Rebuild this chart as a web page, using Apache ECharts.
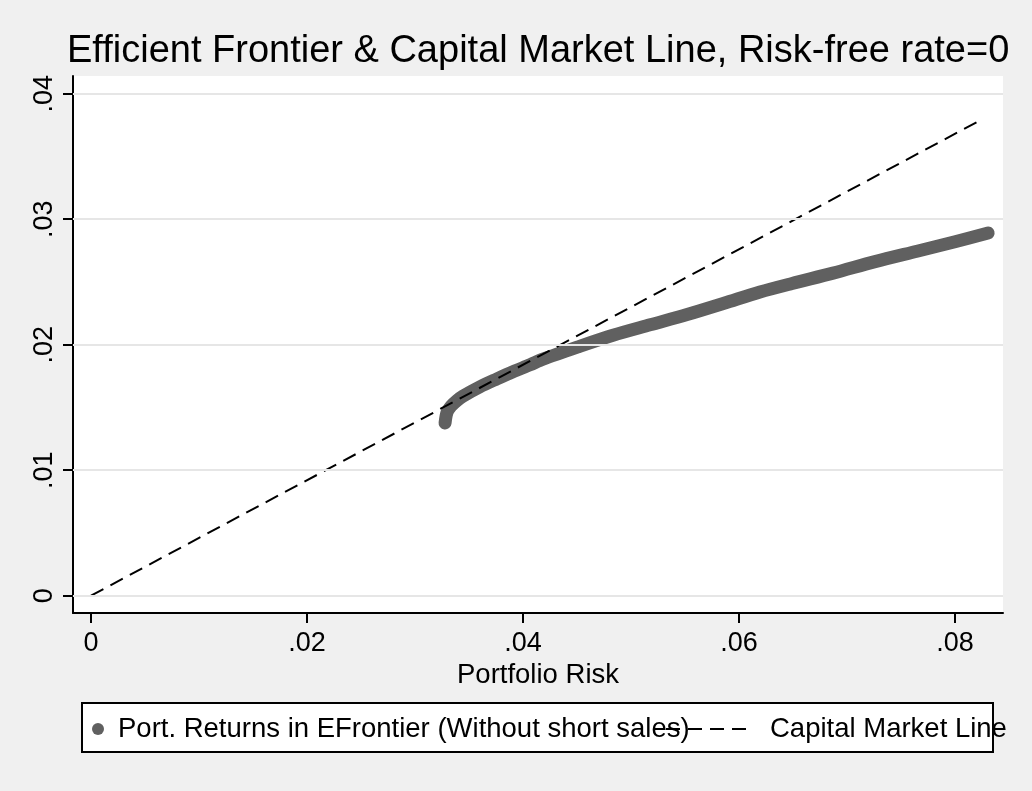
<!DOCTYPE html>
<html>
<head>
<meta charset="utf-8">
<script src="https://cdn.jsdelivr.net/npm/echarts@6/dist/echarts.min.js"></script>
<style>
html,body{margin:0;padding:0;background:#f0f0f0;}
#c{width:1032px;height:791px;}
</style>
</head>
<body>
<div id="c"></div>
<script>
// Efficient frontier (portfolio risk, portfolio return)
var frontierRisk = [0.03278, 0.03296, 0.03333, 0.03389, 0.03444, 0.03602, 0.03759, 0.03907, 0.04065, 0.04185, 0.0450, 0.04833, 0.05176, 0.05519, 0.05861, 0.06194, 0.06491, 0.0687, 0.07259, 0.07648, 0.0800, 0.08306];
var frontierRet  = [0.01376, 0.01460, 0.01510, 0.01555, 0.01590, 0.01665, 0.01728, 0.01785, 0.01840, 0.01885, 0.01980, 0.02075, 0.02158, 0.02240, 0.02330, 0.02420, 0.02488, 0.02570, 0.02662, 0.02745, 0.02820, 0.02890];
// Capital market line endpoints
var cmlRisk = [0, 0.0826];
var cmlRet  = [0, 0.0380];
// Tick values
var xTicks = [0, 0.02, 0.04, 0.06, 0.08];
var yTicks = [0, 0.01, 0.02, 0.03, 0.04];
var seriesNames = ['Port. Returns in EFrontier (Without short sales)', 'Capital Market Line'];

function fmt(v){ if (Math.abs(v) < 1e-9) return '0'; return v.toFixed(2).replace(/^0/, ''); }
function zip(a, b){ return a.map(function(v, i){ return [v, b[i]]; }); }

var FONT = 'Liberation Sans';
var chart = echarts.init(document.getElementById('c'));
chart.setOption({
  backgroundColor: '#f0f0f0',
  animation: false,
  textStyle: { fontFamily: FONT },
  title: {
    text: 'Efficient Frontier & Capital Market Line, Risk-free rate=0',
    left: 62, top: 28,
    textStyle: { fontFamily: FONT, fontSize: 38, fontWeight: 'normal', color: '#000' }
  },
  grid: { left: 73, right: 29, top: 76, bottom: 178, show: true, backgroundColor: '#ffffff', borderWidth: 0 },
  xAxis: {
    type: 'value', min: -0.00167, max: 0.08444,
    name: 'Portfolio Risk', nameLocation: 'middle', nameGap: 42,
    nameTextStyle: { fontFamily: FONT, fontSize: 27.5, color: '#000' },
    axisLine: { show: true, onZero: false, lineStyle: { color: '#000', width: 2 } },
    axisTick: { show: true, length: 10, lineStyle: { color: '#000', width: 2 }, customValues: xTicks },
    axisLabel: { fontFamily: FONT, fontSize: 27, color: '#000', margin: 17, customValues: xTicks, formatter: fmt },
    splitLine: { show: false }
  },
  yAxis: {
    type: 'value', min: -0.00138, max: 0.04141,
    axisLine: { show: true, onZero: false, lineStyle: { color: '#000', width: 2 } },
    axisTick: { show: true, length: 10, lineStyle: { color: '#000', width: 2 }, customValues: yTicks },
    axisLabel: { fontFamily: FONT, fontSize: 27, color: '#000', margin: 15, rotate: 90, customValues: yTicks, formatter: fmt },
    splitLine: { show: false }
  },
  legend: [
    {
      data: [{ name: seriesNames[0], icon: 'circle' }],
      left: 92, top: 715, itemWidth: 12, itemHeight: 12, padding: 0,
      textStyle: { fontFamily: FONT, fontSize: 27.5, color: '#000', padding: [0, 0, 0, 9] },
      selectedMode: false
    },
    {
      data: [{ name: seriesNames[1] }],
      left: 665, top: 715, itemWidth: 85, itemHeight: 14, padding: 0,
      itemStyle: { opacity: 0 },
      lineStyle: { color: '#000', width: 2, type: [14, 8], opacity: 1 },
      textStyle: { fontFamily: FONT, fontSize: 27.5, color: '#000', padding: [0, 0, 0, 14] },
      selectedMode: false
    }
  ],
  graphic: [
    { type: 'rect', z: -1, shape: { x: 82, y: 703, width: 911, height: 49 },
      style: { fill: '#ffffff', stroke: '#000', lineWidth: 2 } }
  ],
  series: [
    {
      name: 'gridlines', type: 'line', data: [], z: 1, silent: true,
      markLine: {
        silent: true, symbol: 'none', label: { show: false },
        lineStyle: { color: '#e6e6e6', width: 2, type: 'solid' },
        data: yTicks.map(function(v){ return { yAxis: v }; })
      }
    },
    {
      name: seriesNames[0], type: 'line', z: 3,
      data: zip(frontierRisk, frontierRet),
      smooth: 0.3, showSymbol: false, symbol: 'circle',
      itemStyle: { color: '#606060' },
      lineStyle: { color: '#606060', width: 13, cap: 'round', join: 'round' }
    },
    {
      name: seriesNames[1], type: 'line', z: 4,
      data: zip(cmlRisk, cmlRet),
      showSymbol: false, symbol: 'none',
      itemStyle: { color: '#000' },
      lineStyle: { color: '#000', width: 2, type: [14, 8] }
    }
  ]
});
</script>
</body>
</html>
